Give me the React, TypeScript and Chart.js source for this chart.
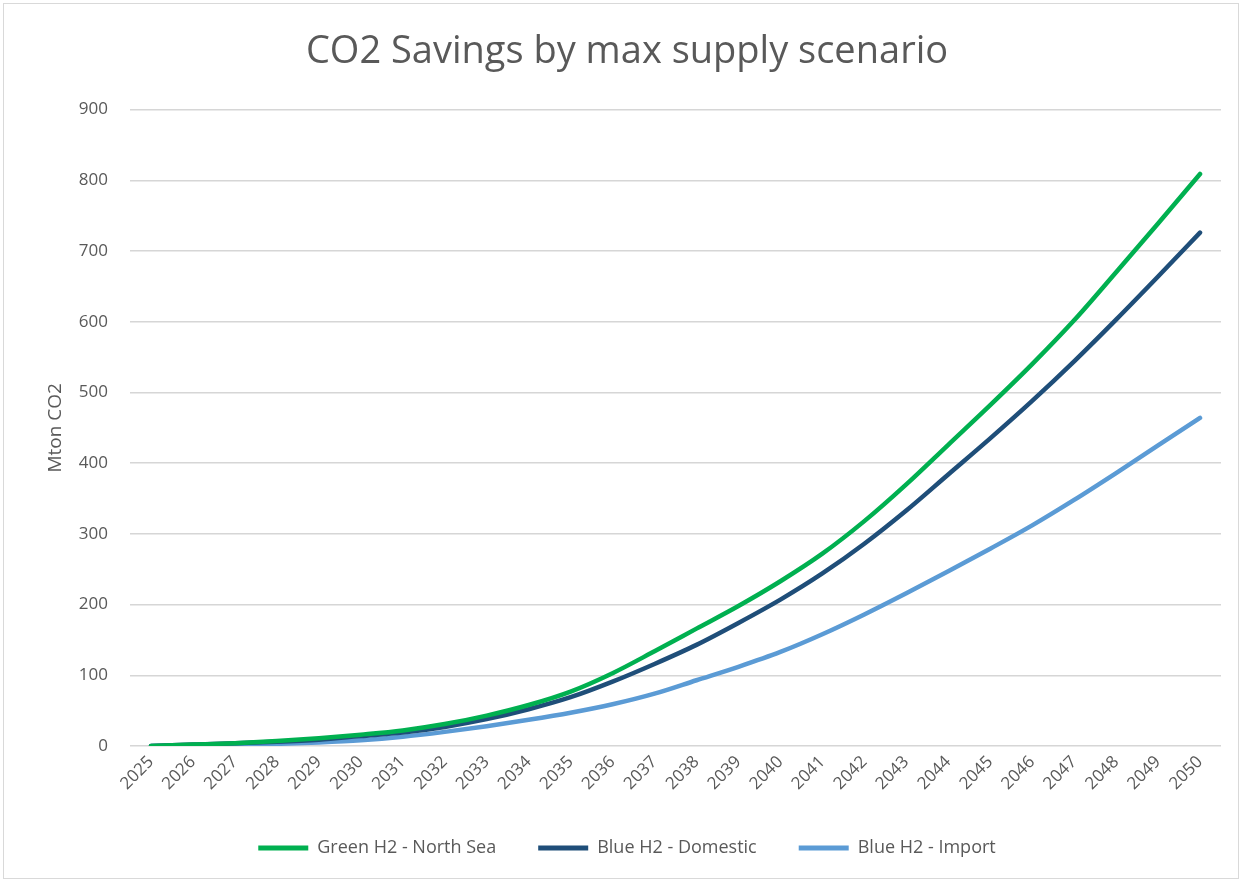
import React, { useEffect, useRef } from "react";
import { Chart, registerables } from "chart.js";

Chart.register(...registerables);

const years = [
  "2025", "2026", "2027", "2028", "2029", "2030", "2031", "2032", "2033",
  "2034", "2035", "2036", "2037", "2038", "2039", "2040", "2041", "2042",
  "2043", "2044", "2045", "2046", "2047", "2048", "2049", "2050",
];

const greenNorthSea = [
  0, 2, 4, 7, 11, 16, 22, 31, 43, 58, 77, 103, 134, 166, 198, 233, 272, 318,
  370, 426, 482, 540, 602, 670, 739, 809,
];

const blueDomestic = [
  0, 2, 4, 6, 9, 14, 19, 27, 38, 52, 69, 91, 116, 143, 174, 207, 244, 286,
  333, 384, 435, 488, 544, 603, 664, 726,
];

const blueImport = [
  0, 1, 2, 3, 5, 8, 13, 20, 28, 37, 47, 59, 74, 93, 112, 133, 158, 186, 216,
  247, 279, 312, 348, 386, 425, 464,
];

const seriesNames = ["Green H2 - North Sea", "Blue H2 - Domestic", "Blue H2 - Import"];
const seriesColors = ["#00B050", "#1F4E79", "#5B9BD5"];

const titleText = "CO2 Savings by max supply scenario";
const yAxisTitle = "Mton CO2";

const FONT = "'Open Sans', 'Liberation Sans', sans-serif";
const TEXT = "#595959";

export default function App() {
  const canvasRef = useRef<HTMLCanvasElement | null>(null);

  useEffect(() => {
    const canvas = canvasRef.current;
    if (!canvas) return;
    const seriesData = [greenNorthSea, blueDomestic, blueImport];
    const chart = new Chart(canvas, {
      type: "line",
      data: {
        labels: years,
        datasets: seriesData.map((d, i) => ({
          label: seriesNames[i],
          data: d,
          borderColor: seriesColors[i],
          backgroundColor: seriesColors[i],
          borderWidth: 4.5,
          pointRadius: 0,
          cubicInterpolationMode: "monotone" as const,
          borderCapStyle: "round" as const,
          borderJoinStyle: "round" as const,
          fill: false,
        })),
      },
      options: {
        responsive: false,
        animation: false,
        layout: { padding: { left: 29, right: 17, top: 0, bottom: 11 } },
        plugins: {
          title: {
            display: true,
            text: titleText,
            color: TEXT,
            font: { family: FONT, size: 38, weight: "normal" },
            padding: { top: 25, bottom: 35 },
          },
          legend: {
            position: "bottom",
            labels: {
              color: TEXT,
              font: { family: FONT, size: 18 },
              boxWidth: 50,
              boxHeight: 5,
              padding: 42,
              generateLabels: (ch: any) => {
                const items = Chart.defaults.plugins.legend.labels.generateLabels(ch);
                return items.map((it: any) => ({
                  ...it,
                  fillStyle: it.strokeStyle,
                  lineWidth: 0,
                }));
              },
            },
          },
          tooltip: { enabled: false },
        },
        scales: {
          x: {
            offset: true,
            grid: { display: false, drawTicks: false },
            border: { display: false },
            ticks: {
              color: TEXT,
              font: { family: FONT, size: 17 },
              minRotation: 45,
              maxRotation: 45,
              autoSkip: false,
              padding: 6,
            },
            afterFit: (scale: any) => {
              scale.height = 51;
            },
          },
          y: {
            min: 0,
            max: 900,
            grid: { color: "#d6d6d6", lineWidth: 1.5, drawTicks: false },
            border: { display: false },
            ticks: {
              stepSize: 100,
              color: TEXT,
              font: { family: FONT, size: 17 },
              padding: 22,
            },
            title: {
              display: true,
              text: yAxisTitle,
              color: TEXT,
              font: { family: FONT, size: 19 },
              padding: { top: 11, bottom: 0 },
            },
            afterFit: (scale: any) => {
              scale.width = 97;
            },
          },
        },
      },
    });
    return () => chart.destroy();
  }, []);

  return (
    <div
      style={{
        position: "absolute",
        left: 0,
        top: 0,
        width: 1248,
        height: 883,
        background: "#ffffff",
      }}
    >
      <div
        style={{
          position: "absolute",
          left: 3,
          top: 3,
          width: 1234,
          height: 874,
          border: "1px solid #d9d9d9",
        }}
      >
        <canvas
          ref={canvasRef}
          width={1234}
          height={874}
          style={{ display: "block", width: 1234, height: 874 }}
        />
      </div>
    </div>
  );
}
